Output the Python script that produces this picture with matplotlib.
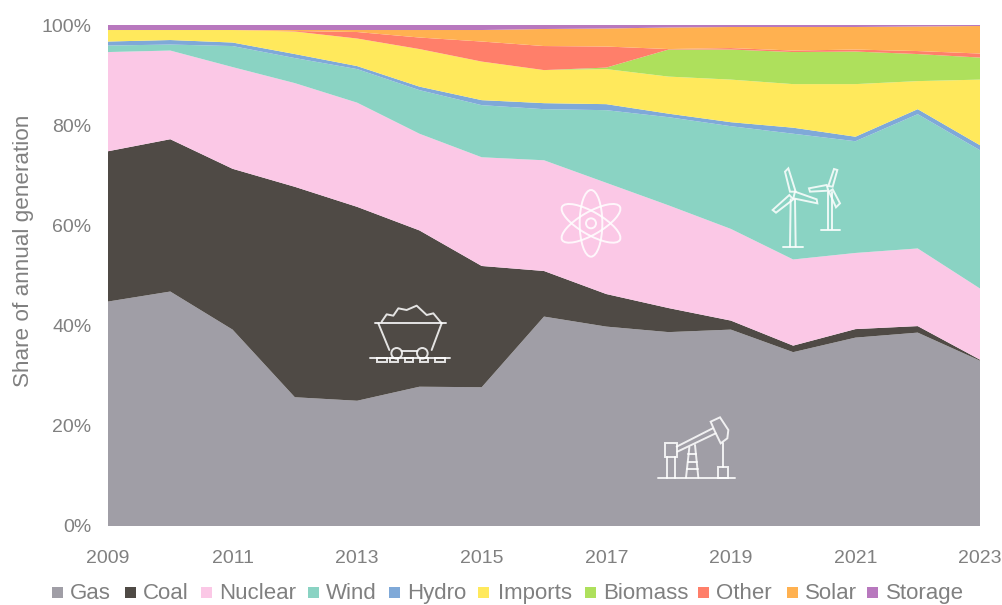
import numpy as np
import matplotlib
matplotlib.use('Agg')
import matplotlib.pyplot as plt
from matplotlib.patches import Circle, Ellipse, Polygon, Rectangle

plt.rcParams['font.family'] = ['Liberation Sans', 'DejaVu Sans']

# Shares of annual generation (percent)
years = list(range(2009, 2024))
gas = [44.8, 46.8, 39.2, 25.7, 25.0, 27.8, 27.7, 41.8, 39.8, 38.7, 39.2, 34.7, 37.6, 38.6, 33.0]
coal = [30.0, 30.4, 32.1, 42.0, 38.7, 31.2, 24.2, 9.1, 6.5, 4.8, 1.8, 1.3, 1.7, 1.3, 0.2]
nuclear = [19.8, 17.7, 20.3, 20.7, 20.8, 19.3, 21.7, 22.1, 22.2, 20.5, 18.3, 17.2, 15.2, 15.5, 14.2]
wind = [1.3, 1.2, 4.2, 5.0, 6.7, 8.7, 10.4, 10.2, 14.5, 17.6, 20.5, 25.1, 22.3, 26.8, 27.6]
hydro = [0.8, 0.9, 0.7, 0.8, 0.6, 0.7, 1.0, 1.2, 1.2, 0.7, 0.8, 1.2, 0.9, 1.0, 1.0]
imports = [2.3, 2.0, 2.5, 4.5, 5.5, 7.5, 7.7, 6.6, 7.0, 7.4, 8.5, 8.7, 10.5, 5.6, 13.1]
biomass = [0, 0, 0, 0, 0, 0, 0, 0, 0.3, 5.4, 6.0, 6.4, 6.5, 5.4, 4.4]
other = [0, 0, 0, 0.1, 1.3, 2.3, 4.0, 4.8, 4.2, 0.1, 0.3, 0.3, 0.4, 0.6, 0.8]
solar = [0, 0, 0, 0.2, 0.4, 1.5, 2.3, 3.4, 3.6, 4.3, 4.2, 4.7, 4.5, 4.9, 5.5]
storage = [1.0, 1.0, 1.0, 1.0, 1.0, 1.0, 1.0, 0.8, 0.7, 0.5, 0.4, 0.4, 0.4, 0.3, 0.2]

labels = ['Gas', 'Coal', 'Nuclear', 'Wind', 'Hydro', 'Imports', 'Biomass', 'Other', 'Solar', 'Storage']
colors = ['#A09EA6', '#4F4A45', '#FBC8E6', '#8AD3C3', '#7FA9D8',
          '#FFE95C', '#AEE05C', '#FF7F6A', '#FFB150', '#B878BE']
grey = '#808080'
W, H = 1003, 605

fig = plt.figure(figsize=(W / 100, H / 100), dpi=100)
ax = fig.add_axes([108 / W, 1 - 526 / H, 872 / W, 501 / H])
ax.stackplot(years, gas, coal, nuclear, wind, hydro, imports, biomass, other, solar, storage,
             labels=labels, colors=colors, linewidth=0)
ax.set_xlim(2009, 2023)
ax.set_ylim(0, 100)
ax.set_xticks(years[::2])
ax.set_yticks(range(0, 101, 20))
ax.set_yticklabels([f'{v}%' for v in range(0, 101, 20)])
ax.tick_params(length=0, labelsize=14, labelcolor=grey)
ax.tick_params(axis='y', pad=12)
ax.tick_params(axis='x', pad=17)
for s in ax.spines.values():
    s.set_visible(False)
ax.set_ylabel('Share of annual generation', fontsize=16.2, color=grey)
ax.yaxis.set_label_coords((34 - 108) / 872, 0.55)

# Overlay in pixel coordinates for the legend row and the white line icons
ov = fig.add_axes([0, 0, 1, 1])
ov.set_xlim(0, W)
ov.set_ylim(H, 0)
ov.axis('off')

# Legend laid out by hand: the built-in one puts words with descenders on a different baseline
swatch_x = [52, 125, 201, 308, 389, 478, 585, 698, 787, 867]
text_x = [70, 143, 219, 326, 407, 498, 603, 716, 805, 886]
for name, col, sx, tx in zip(labels, colors, swatch_x, text_x):
    ov.add_patch(Rectangle((sx, 587), 11, 11, color=col, lw=0))
    ov.text(tx, 599, name, fontsize=16, color=grey, va='baseline', ha='left')

ICON = dict(color='white', lw=1.4, alpha=0.85, solid_capstyle='round')
PATCH = dict(fill=False, edgecolor='white', lw=1.4, alpha=0.85)


def lines(origin, segs):
    # segs are point lists measured in the 3x zoom crops
    for seg in segs:
        pts = np.array(seg) / 3 + origin
        ov.plot(pts[:, 0], pts[:, 1], **ICON)


def poly(origin, pts):
    ov.add_patch(Polygon(np.array(pts) / 3 + origin, closed=True, **PATCH))


# Coal cart
o = np.array([360, 295])
lines(o, [[(45, 85), (258, 85)], [(30, 190), (270, 190)], [(125, 168), (172, 168)],
          [(55, 85), (88, 165)], [(245, 85), (215, 165)],
          [(65, 80), (80, 58), (100, 62), (115, 40), (140, 45), (170, 32), (200, 60), (220, 55), (245, 85)]])
for cx in (110, 187):
    ov.add_patch(Circle(o + np.array([cx, 175]) / 3, 16 / 3, **PATCH))
for a, b in [(50, 80), (90, 115), (135, 160), (180, 205), (225, 255)]:
    ov.add_patch(Rectangle(o + np.array([a, 190]) / 3, (b - a) / 3, 4, **PATCH))

# Pump jack
o = np.array([650, 410])
lines(o, [[(25, 203), (255, 203)], [(52, 140), (52, 203)], [(75, 140), (75, 203)],
          [(80, 110), (188, 55)], [(82, 125), (197, 70)], [(218, 100), (218, 170)],
          [(118, 112), (108, 203)], [(135, 105), (145, 203)],
          [(115, 132), (138, 132)], [(113, 155), (141, 155)], [(110, 178), (143, 178)]])
ov.add_patch(Rectangle(o + np.array([45, 100]) / 3, 35 / 3, 40 / 3, **PATCH))
ov.add_patch(Rectangle(o + np.array([205, 170]) / 3, 30 / 3, 33 / 3, **PATCH))
poly(o, [(182, 35), (210, 22), (235, 60), (232, 85), (212, 100), (195, 65)])

# Wind turbines
o = np.array([760, 160])
lines(o, [[(92, 118), (90, 260)], [(105, 118), (107, 260)], [(68, 260), (130, 260)],
          [(203, 95), (203, 208)], [(215, 95), (215, 208)], [(183, 210), (240, 210)]])
poly(o, [(90, 95), (75, 35), (85, 25), (107, 95)])
poly(o, [(105, 95), (170, 118), (172, 130), (100, 115)])
poly(o, [(88, 105), (38, 150), (48, 158), (100, 118)])
poly(o, [(205, 78), (222, 27), (232, 30), (218, 80)])
poly(o, [(200, 75), (147, 85), (150, 95), (205, 92)])
poly(o, [(218, 88), (240, 130), (228, 142), (207, 95)])

# Atom
o = np.array([550, 180])
c = o + np.array([123, 130]) / 3
ov.add_patch(Circle(c, 15 / 3, **PATCH))
for ang in (0, 60, 120):
    ov.add_patch(Ellipse(c, 68 / 3, 200 / 3, angle=ang, **PATCH))

fig.savefig('out.png', dpi=100)
